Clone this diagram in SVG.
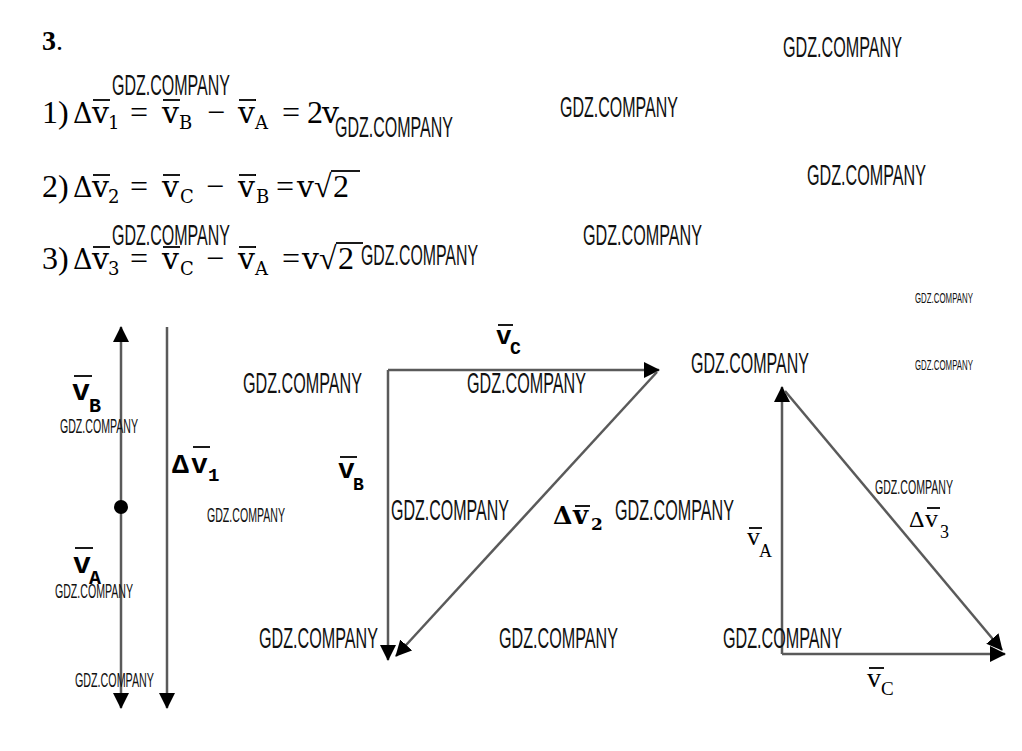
<svg xmlns="http://www.w3.org/2000/svg" width="1022" height="751" viewBox="0 0 1022 751">
<defs>
<style>
.m{font-family:"Liberation Serif","Times New Roman",serif;font-size:32px;fill:#000}
.mv{font-family:"DejaVu Serif",serif;font-size:30px}
.md{font-family:"DejaVu Serif",serif;font-size:27px}
.ms{font-family:"DejaVu Serif",serif;font-size:18px;fill:#000}
.ob{stroke:#000;stroke-width:1.8}
.wl{font-family:"Liberation Sans",Arial,sans-serif;font-size:29px;fill:#111}
.ws{font-family:"Liberation Sans",Arial,sans-serif;font-size:21px;fill:#111}
.wt{font-family:"Liberation Sans",Arial,sans-serif;font-size:14px;fill:#111}
.cb{font-family:"Liberation Mono","Courier New",monospace;font-weight:bold;fill:#000}
.sr{font-family:"Liberation Serif","Times New Roman",serif;fill:#000}
.vec{stroke:#5a5a5a;stroke-width:2.5;fill:none;marker-end:url(#ah)}
</style>
<marker id="ah" markerUnits="userSpaceOnUse" markerWidth="16" markerHeight="16" viewBox="0 0 16 16" refX="15" refY="8" orient="auto">
<path d="M0,0 L16,8 L0,16 z" fill="#000"/>
</marker>
</defs>
<rect width="1022" height="751" fill="#fff"/>

<g id="heading">
<text x="42" y="50" class="sr" style="font-size:28px;font-weight:bold">3<tspan style="font-weight:normal">.</tspan></text>
</g>

<g id="eq1">
<text class="m" y="123"><tspan x="42">1)</tspan><tspan x="73" class="md">Δ</tspan><tspan x="92" class="mv">v</tspan><tspan x="108" y="129" class="ms">1</tspan><tspan x="130" y="123">=</tspan><tspan x="162" class="mv">v</tspan><tspan x="179" y="129" class="ms">B</tspan><tspan x="207" y="123">−</tspan><tspan x="238" class="mv">v</tspan><tspan x="255" y="129" class="ms">A</tspan><tspan x="282" y="123">=</tspan><tspan x="307">2</tspan><tspan x="322" class="mv">v</tspan></text>
<line class="ob" x1="93" y1="100" x2="110" y2="100"/>
<line class="ob" x1="163" y1="100" x2="180" y2="100"/>
<line class="ob" x1="239" y1="100" x2="256" y2="100"/>
</g>

<g id="eq2">
<text class="m" y="197"><tspan x="42">2)</tspan><tspan x="73" class="md">Δ</tspan><tspan x="92" class="mv">v</tspan><tspan x="108" y="203" class="ms">2</tspan><tspan x="130" y="197">=</tspan><tspan x="162" class="mv">v</tspan><tspan x="180" y="203" class="ms">C</tspan><tspan x="206" y="197">−</tspan><tspan x="238" class="mv">v</tspan><tspan x="256" y="203" class="ms">B</tspan><tspan x="276" y="197">=</tspan><tspan x="297" class="mv">v</tspan><tspan x="314">√</tspan><tspan x="333">2</tspan></text>
<line class="ob" x1="93" y1="175" x2="110" y2="175"/>
<line class="ob" x1="163" y1="175" x2="180" y2="175"/>
<line class="ob" x1="239" y1="175" x2="256" y2="175"/>
<line class="ob" x1="331" y1="171" x2="360" y2="171"/>
</g>

<g id="eq3">
<text class="m" y="269"><tspan x="42">3)</tspan><tspan x="73" class="md">Δ</tspan><tspan x="92" class="mv">v</tspan><tspan x="108" y="275" class="ms">3</tspan><tspan x="130" y="269">=</tspan><tspan x="162" class="mv">v</tspan><tspan x="180" y="275" class="ms">C</tspan><tspan x="206" y="269">−</tspan><tspan x="238" class="mv">v</tspan><tspan x="255" y="275" class="ms">A</tspan><tspan x="282" y="269">=</tspan><tspan x="302" class="mv">v</tspan><tspan x="319">√</tspan><tspan x="338">2</tspan></text>
<line class="ob" x1="93" y1="247" x2="110" y2="247"/>
<line class="ob" x1="163" y1="247" x2="180" y2="247"/>
<line class="ob" x1="239" y1="247" x2="256" y2="247"/>
<line class="ob" x1="336" y1="243" x2="363" y2="243"/>
</g>

<g id="connectors">
<line class="vec" x1="121" y1="507" x2="121" y2="327"/>
<line class="vec" x1="121" y1="507" x2="121" y2="708"/>
<line class="vec" x1="167" y1="327" x2="167" y2="708"/>
<line class="vec" x1="388" y1="370" x2="659" y2="370"/>
<line class="vec" x1="388" y1="370" x2="388" y2="660"/>
<line class="vec" x1="657" y1="372" x2="396" y2="656"/>
<line class="vec" x1="782" y1="654" x2="782" y2="387"/>
<line class="vec" x1="782" y1="654" x2="1005" y2="654"/>
<line class="vec" x1="785" y1="391" x2="1002" y2="650"/>
</g>

<g id="dot"><circle cx="121" cy="507" r="7" fill="#000"/></g>

<g id="d1-labels">
<text class="cb"><tspan x="72" y="400" style="font-size:30px">v</tspan><tspan x="89" y="412" style="font-size:20px">B</tspan></text>
<line class="ob" x1="74" y1="376" x2="92" y2="376"/>
<text class="cb"><tspan x="172" y="473" style="font-size:28px">Δ</tspan><tspan x="191" y="473" style="font-size:28px">v</tspan><tspan x="208" y="481" style="font-size:19px">1</tspan></text>
<line class="ob" x1="193" y1="447" x2="210" y2="447"/>
<text class="cb"><tspan x="73" y="573" style="font-size:30px">v</tspan><tspan x="89" y="584" style="font-size:20px">A</tspan></text>
<line class="ob" x1="75" y1="548" x2="93" y2="548"/>
</g>

<g id="d2-labels">
<text class="cb"><tspan x="496" y="344" style="font-size:26px">v</tspan><tspan x="510" y="354" style="font-size:18px">C</tspan></text>
<line class="ob" x1="498" y1="325" x2="513" y2="325"/>
<text class="cb"><tspan x="338" y="478" style="font-size:28px">v</tspan><tspan x="353" y="490" style="font-size:18px">B</tspan></text>
<line class="ob" x1="340" y1="457" x2="357" y2="457"/>
<text style="font-family:'DejaVu Serif',serif;font-weight:bold;fill:#000"><tspan x="553" y="524" style="font-size:25px">Δ</tspan><tspan x="573" y="524" style="font-size:26px">v</tspan><tspan x="591" y="530" style="font-size:17px">2</tspan></text>
<line class="ob" x1="575" y1="506" x2="590" y2="506"/>
</g>

<g id="d3-labels">
<text class="sr"><tspan x="747" y="545" style="font-size:26px">v</tspan><tspan x="759" y="557" style="font-size:18px">A</tspan></text>
<line class="ob" x1="749" y1="528" x2="762" y2="528"/>
<text class="sr"><tspan x="909" y="527" style="font-size:24px">Δ</tspan><tspan x="925" y="527" style="font-size:26px">v</tspan><tspan x="940" y="538" style="font-size:18px">3</tspan></text>
<line class="ob" x1="927" y1="508" x2="940" y2="508"/>
<text class="sr"><tspan x="867" y="687" style="font-size:28px">v</tspan><tspan x="881" y="695" style="font-size:19px">C</tspan></text>
<line class="ob" x1="869" y1="668" x2="884" y2="668"/>
</g>

<g id="watermarks">
<text class="wl" x="112" y="95" textLength="118" lengthAdjust="spacingAndGlyphs">GDZ.COMPANY</text>
<text class="wl" x="335" y="137" textLength="118" lengthAdjust="spacingAndGlyphs">GDZ.COMPANY</text>
<text class="wl" x="783" y="57" textLength="119" lengthAdjust="spacingAndGlyphs">GDZ.COMPANY</text>
<text class="wl" x="560" y="117" textLength="118" lengthAdjust="spacingAndGlyphs">GDZ.COMPANY</text>
<text class="wl" x="807" y="185" textLength="119" lengthAdjust="spacingAndGlyphs">GDZ.COMPANY</text>
<text class="wl" x="583" y="245" textLength="119" lengthAdjust="spacingAndGlyphs">GDZ.COMPANY</text>
<text class="wl" x="112" y="245" textLength="118" lengthAdjust="spacingAndGlyphs">GDZ.COMPANY</text>
<text class="wl" x="361" y="265" textLength="117" lengthAdjust="spacingAndGlyphs">GDZ.COMPANY</text>
<text class="wl" x="691" y="373" textLength="118" lengthAdjust="spacingAndGlyphs">GDZ.COMPANY</text>
<text class="wl" x="243" y="393" textLength="119" lengthAdjust="spacingAndGlyphs">GDZ.COMPANY</text>
<text class="wl" x="467" y="393" textLength="119" lengthAdjust="spacingAndGlyphs">GDZ.COMPANY</text>
<text class="wl" x="391" y="520" textLength="118" lengthAdjust="spacingAndGlyphs">GDZ.COMPANY</text>
<text class="wl" x="615" y="520" textLength="119" lengthAdjust="spacingAndGlyphs">GDZ.COMPANY</text>
<text class="wl" x="259" y="648" textLength="119" lengthAdjust="spacingAndGlyphs">GDZ.COMPANY</text>
<text class="wl" x="499" y="648" textLength="119" lengthAdjust="spacingAndGlyphs">GDZ.COMPANY</text>
<text class="wl" x="723" y="648" textLength="119" lengthAdjust="spacingAndGlyphs">GDZ.COMPANY</text>
<text class="ws" x="60" y="433" textLength="78" lengthAdjust="spacingAndGlyphs">GDZ.COMPANY</text>
<text class="ws" x="207" y="522" textLength="78" lengthAdjust="spacingAndGlyphs">GDZ.COMPANY</text>
<text class="ws" x="875" y="494" textLength="78" lengthAdjust="spacingAndGlyphs">GDZ.COMPANY</text>
<text class="ws" x="55" y="598" textLength="78" lengthAdjust="spacingAndGlyphs">GDZ.COMPANY</text>
<text class="ws" x="75" y="687" textLength="79" lengthAdjust="spacingAndGlyphs">GDZ.COMPANY</text>
<text class="wt" x="915" y="303" textLength="58" lengthAdjust="spacingAndGlyphs">GDZ.COMPANY</text>
<text class="wt" x="915" y="370" textLength="58" lengthAdjust="spacingAndGlyphs">GDZ.COMPANY</text>
</g>
</svg>
